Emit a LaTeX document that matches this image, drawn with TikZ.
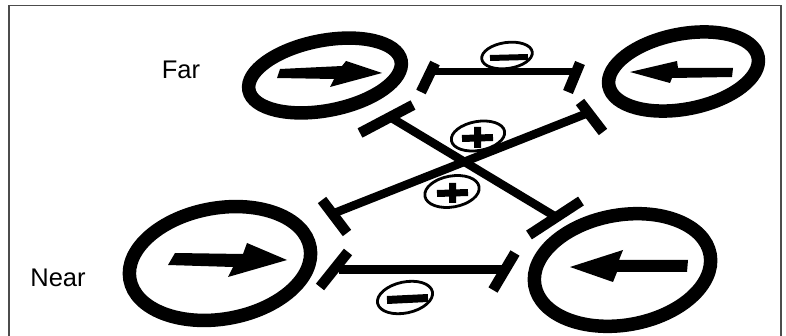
\documentclass[tikz,border=0pt]{standalone}
\usepackage{fontspec}
\setmainfont{Liberation Sans}
\usetikzlibrary{shapes.geometric}

\begin{document}
\begin{tikzpicture}[x=1pt, y=-1pt,
  ring/.style={draw, ellipse, line width=13.5pt, inner sep=0pt},
  sign/.style={draw, fill=white, ellipse, line width=2.8pt, inner sep=0pt},
  tbar/.style={line width=10.5pt},
  link/.style={line width=8.5pt},
  rowname/.style={font=\fontsize{25.5}{30}\selectfont}]
\useasboundingbox (0,0) rectangle (786,336);
\draw[black!70, line width=1.2pt] (9,5.5) rectangle (781,345);
% row names
\node[rowname] (far) at (181,70) {Far};
\node[rowname] (near) at (58,278) {Near};
% the four rings
\node[ring, minimum width=155pt, minimum height=70pt, rotate=11] (farL) at (325,75.5) {};
\node[ring, minimum width=152pt, minimum height=75pt, rotate=11] (farR) at (683.5,71.5) {};
\node[ring, minimum width=183pt, minimum height=111pt, rotate=10] (nearL) at (220,263.5) {};
\node[ring, minimum width=178pt, minimum height=110pt, rotate=10] (nearR) at (622.5,270) {};
% direction arrows
\fill (277,78) -- (280,69) -- (342,66) -- (346,61) -- (382,73) -- (330,87) -- (334,79) -- cycle;
\fill (630,72) -- (677,61) -- (678,68) -- (733,68) -- (732,77) -- (672,78) -- (670,83) -- cycle;
\fill (168,265) -- (175,253) -- (243,254) -- (247,243) -- (287,260) -- (228,277) -- (233,267) -- cycle;
\fill (570,267) -- (623,250) -- (619,260) -- (688,260) -- (687,272) -- (617,272) -- (613,282) -- cycle;
% line ends
\coordinate (tL) at (431,72); \coordinate (tR) at (575,72);
\coordinate (bL) at (339,270); \coordinate (bR) at (505,270);
\coordinate (aS) at (390,117); \coordinate (aE) at (556,217);
\coordinate (cS) at (332,214); \coordinate (cE) at (588,113);
% connectors
\draw[link, line width=7pt] (tL) -- (tR);
\draw[link, line width=9pt] (bL) -- (bR);
\draw[link] (aS) -- (aE);
\draw[link] (cS) -- (cE);
\draw[tbar] (421,92) -- (435,63); \draw[tbar] (568,92) -- (580,63);
\draw[tbar] (320,287) -- (348,252); \draw[tbar] (493,290) -- (515,253);
\draw[tbar] (360,133) -- (413,105); \draw[tbar] (529,235) -- (581,201);
\draw[tbar] (322,200) -- (347,233); \draw[tbar] (580,102) -- (603,132);
% signs
\node[sign, minimum width=51pt, minimum height=26pt, rotate=8] (minusT) at (507,55.5) {};
\draw[line width=6pt] (490,58) -- (528,57);
\node[sign, minimum width=56pt, minimum height=31pt, rotate=12] (minusB) at (405,297.5) {};
\draw[line width=8pt] (387,300) -- (428,298);
\node[sign, minimum width=54pt, minimum height=29pt, rotate=10] (plusA) at (478,136) {};
\draw[line width=7pt] (462,138.5) -- (493,137.5) (477.5,127) -- (477.5,148);
\node[sign, minimum width=55pt, minimum height=31pt, rotate=10] (plusB) at (452,191.5) {};
\draw[line width=7pt] (437,193.5) -- (468,192.5) (452.5,183) -- (452.5,203);
\end{tikzpicture}
\end{document}
